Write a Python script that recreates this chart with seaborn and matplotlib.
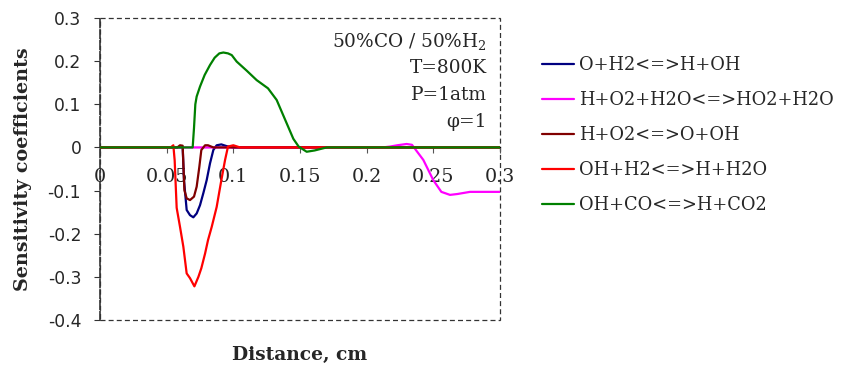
import matplotlib
matplotlib.use("Agg")
import matplotlib.pyplot as plt
from matplotlib.patches import Rectangle
import pandas as pd
import seaborn as sns

# Sensitivity profiles along the flame (distance in cm)
o_h2_x = [0, 0.0620, 0.063, 0.065, 0.0675, 0.070, 0.0725, 0.075, 0.0775, 0.080, 0.0825, 0.085, 0.0875, 0.091, 0.095, 0.100, 0.3]
o_h2_y = [0, 0, -0.076, -0.145, -0.157, -0.162, -0.153, -0.134, -0.106, -0.076, -0.037, -0.006, 0.005, 0.007, 0.003, 0, 0]

ho2_x = [0, 0.212, 0.2175, 0.223, 0.230, 0.234, 0.2425, 0.250, 0.256, 0.2625, 0.268, 0.2775, 0.3]
ho2_y = [0, 0, 0.002, 0.005, 0.008, 0.006, -0.029, -0.076, -0.103, -0.110, -0.108, -0.103, -0.103]

h_o2_x = [0, 0.058, 0.060, 0.062, 0.0625, 0.0633, 0.065, 0.0675, 0.0705, 0.0725, 0.0745, 0.076, 0.0788, 0.081, 0.085, 0.3]
h_o2_y = [0, 0, 0.005, 0.004, -0.037, -0.099, -0.118, -0.122, -0.114, -0.091, -0.045, -0.006, 0.005, 0.005, 0, 0]

oh_h2_x = [0, 0.053, 0.055, 0.056, 0.0575, 0.060, 0.0625, 0.065, 0.0675, 0.0708, 0.0738, 0.076, 0.0788, 0.081,
           0.0838, 0.0875, 0.091, 0.0938, 0.096, 0.100, 0.105, 0.3]
oh_h2_y = [0, 0, 0.005, -0.03, -0.14, -0.184, -0.23, -0.292, -0.303, -0.322, -0.30, -0.28, -0.246, -0.215,
           -0.184, -0.138, -0.076, -0.029, 0.002, 0.005, 0, 0]

oh_co_x = [0, 0.0695, 0.0705, 0.0715, 0.0725, 0.075, 0.0785, 0.0825, 0.086, 0.0895, 0.0925, 0.0960, 0.0988,
           0.1025, 0.110, 0.1175, 0.126, 0.1325, 0.140, 0.145, 0.149, 0.155, 0.161, 0.170, 0.3]
oh_co_y = [0, 0, 0.045, 0.100, 0.118, 0.141, 0.168, 0.191, 0.208, 0.218, 0.220, 0.218, 0.214,
           0.199, 0.178, 0.156, 0.137, 0.110, 0.056, 0.020, 0.002, -0.010, -0.007, 0, 0]

reactions = ["O+H2<=>H+OH", "H+O2+H2O<=>HO2+H2O", "H+O2<=>O+OH", "OH+H2<=>H+H2O", "OH+CO<=>H+CO2"]
series_x = [o_h2_x, ho2_x, h_o2_x, oh_h2_x, oh_co_x]
series_y = [o_h2_y, ho2_y, h_o2_y, oh_h2_y, oh_co_y]
colors = ["#000080", "#FF00FF", "#800000", "#FF0000", "#008000"]

x_ticks = [0, 0.05, 0.1, 0.15, 0.2, 0.25, 0.3]
x_tick_labels = ["0", "0.05", "0.1", "0.15", "0.2", "0.25", "0.3"]
y_ticks = [-0.4, -0.3, -0.2, -0.1, 0, 0.1, 0.2, 0.3]
y_tick_labels = ["-0.4", "-0.3", "-0.2", "-0.1", "0", "0.1", "0.2", "0.3"]

conditions = ["50%CO / 50%H$_2$", "T=800K", "P=1atm", "φ=1"]

frames = []
for name, xs, ys in zip(reactions, series_x, series_y):
    frames.append(pd.DataFrame({"Distance": xs, "S": ys, "Reaction": name}))
df = pd.concat(frames, ignore_index=True)

sns.set_theme(style="white")
plt.rcParams["font.family"] = ["DejaVu Serif"]
plt.rcParams["mathtext.fontset"] = "dejavuserif"

fig = plt.figure(figsize=(8.42, 3.70), dpi=100)
ax = fig.add_axes([100 / 842, 1 - 320 / 370, 400 / 842, 302 / 370])

sns.lineplot(data=df, x="Distance", y="S", hue="Reaction", hue_order=reactions,
             palette=colors, sort=False, estimator=None,
             linewidth=1.6, ax=ax, zorder=3)

ax.set_xlim(0, 0.3)
ax.set_ylim(-0.4, 0.3)

# x axis crosses at zero; outer frame dashed
for s in ["top", "right"]:
    ax.spines[s].set_visible(False)
ax.spines["bottom"].set_position(("data", 0))
ax.spines["bottom"].set_color("black")
ax.spines["bottom"].set_linewidth(0.8)
ax.spines["bottom"].set_zorder(1)
ax.spines["left"].set_linestyle((0, (5, 1.5)))
ax.spines["left"].set_color("#333333")
ax.spines["left"].set_linewidth(1.2)
ax.add_patch(Rectangle((0, 0), 1, 1, transform=ax.transAxes, fill=False,
                       edgecolor="#333333", linewidth=0.9, linestyle=(0, (4, 2.5)),
                       clip_on=False, zorder=0.5))

ax.set_xticks(x_ticks)
ax.set_xticklabels(x_tick_labels)
ax.set_yticks(y_ticks)
ax.set_yticklabels(y_tick_labels, family="DejaVu Sans")
ax.tick_params(axis="x", direction="out", length=4, width=0.8, color="#555555",
               pad=11, labelsize=13.8, bottom=True)
ax.tick_params(axis="y", direction="out", length=4.5, width=0.8, color="#333333",
               pad=9, labelsize=12.3, left=True)

ax.set_xlabel("Distance, cm", fontweight="bold", fontsize=13.4, va="center")
ax.xaxis.set_label_coords(0.5, -(355 - 320) / 302)
ax.set_ylabel("Sensitivity coefficients", fontweight="bold", fontsize=13.8, va="center")
ax.yaxis.set_label_coords(-(100 - 23) / 400, 0.5)

for i, line in enumerate(conditions):
    ax.text(0.967, 0.922 - i * 0.089, line, transform=ax.transAxes, ha="right",
            va="center", fontsize=13.3)

handles, labels = ax.get_legend_handles_labels()
ax.legend(handles, labels, loc="upper left", bbox_to_anchor=(542 / 842, 1 - 56 / 370),
          bbox_transform=fig.transFigure, frameon=False, fontsize=12.8,
          handlelength=1.8, handletextpad=0.3, labelspacing=0.96, borderaxespad=0,
          borderpad=0)

fig.savefig("out.png", dpi=100)
